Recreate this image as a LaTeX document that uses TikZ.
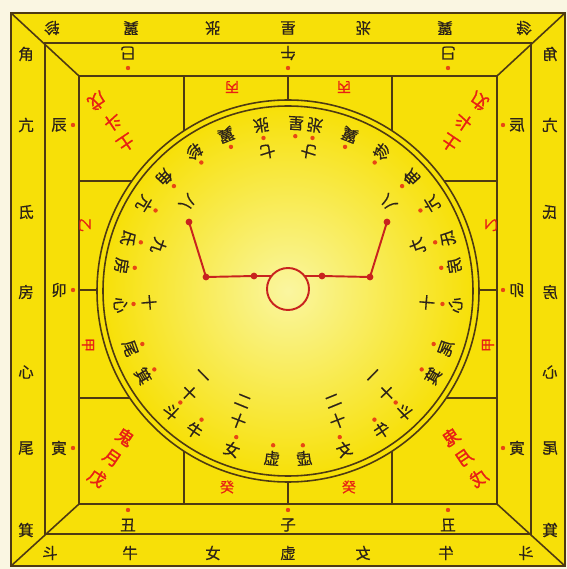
\documentclass[tikz,border=0pt]{standalone}
\usepackage{fontspec}
\newfontfamily\cjk[FakeBold=0.6]{Noto Sans CJK SC}
\newfontfamily\cjkheavy[FakeBold=1.6]{Noto Sans CJK SC}
\definecolor{pagecream}{RGB}{250,246,226}
\definecolor{boardyellow}{RGB}{247,224,8}
\definecolor{glowyellow}{RGB}{250,246,160}
\definecolor{linebrown}{RGB}{78,58,18}
\definecolor{inkdark}{RGB}{45,35,25}
\definecolor{inkred}{RGB}{232,32,20}
\definecolor{dotred}{RGB}{232,70,20}
\definecolor{dipperred}{RGB}{200,35,30}
\usetikzlibrary{calc}

% one half of the board; the other half is its mirror image
\newcommand{\halfboard}[1]{%
  % outer band: lodges
  \foreach \lodge/\x [count=\i] in {轸/52,翼/131,张/213}
    {\node[bandtxt,rotate=180] (#1top\i) at (\x,541) {\lodge};}
  \foreach \lodge/\x [count=\i] in {斗/50,牛/130,女/213}
    {\node[bandtxt] (#1bot\i) at (\x,16) {\lodge};}
  \foreach \lodge/\y [count=\i] in {角/515,亢/444,氐/357,房/277,心/197,尾/121,箕/39}
    {\node[bandtxt] (#1side\i) at (26,\y) {\lodge};}
  % branch band
  \node[bandtxt,rotate=180] (#1si) at (128,516) {巳};
  \fill[dotred] (128,501) circle (2.2);
  \node[bandtxt] (#1chou) at (128,44) {丑};
  \fill[dotred] (128,59) circle (2.2);
  \foreach \branch/\y [count=\i] in {辰/444,卯/279,寅/121}
    {\node[bandtxt] (#1branch\i) at (59,\y) {\branch};
     \fill[dotred] (73,\y) circle (2.2);}
  % stems
  \node[stemtxt,rotate=180] (#1bing) at (232,482) {丙};
  \node[stemtxt,rotate=-90] (#1yi) at (85,344) {乙};
  \node[stemtxt,rotate=-90] (#1jia) at (88,224) {甲};
  \node[stemtxt] (#1gui) at (227,82) {癸};
  % corner gates
  \foreach \gate/\x/\y [count=\i] in {土/126/426,斗/113/447,戊/97/468}
    {\node[gatetxt,rotate=-146] (#1earth\i) at (\x,\y) {\gate};}
  \foreach \gate/\x/\y [count=\i] in {鬼/125/132,月/112/111,戊/97/91}
    {\node[gatetxt,rotate=-34] (#1ghost\i) at (\x,\y) {\gate};}
  % heaven plate
  \begin{scope}[shift={(288,278)}]
    \foreach \lodge/\a [count=\i] in {张/99.1,翼/111.6,轸/124,角/137.4,亢/148.7,
        氐/161.7,房/171.4,心/184.8,尾/200,箕/210.4,斗/226,牛/236.1,女/250.5,虚/264.5}
      {\node[ringtxt,rotate=\a+90] (#1ring\i) at (\a:168) {\lodge};
       \fill[dotred] (\a:155) circle (2.2);}
    \foreach \num/\a/\r [count=\i] in {七/98.4/141,八/138.6/134,九/160.8/137,
        十/184.7/139.5,十/225.9/142,一/224.7/122,十/249/139,二/247.7/119}
      {\node[ringtxt,rotate=\a+90] (#1month\i) at (\a:\r) {\num};}
  \end{scope}
  % dipper
  \coordinate (#1d1) at (189,347);
  \coordinate (#1d2) at (206,292);
  \coordinate (#1d3) at (254,293);
  \coordinate (#1hubedge) at (271.5,293);
  \draw[dipper] (#1d1) -- (#1d2) -- (#1d3) -- (#1hubedge);
  \foreach \p in {d1,d2,d3}
    {\fill[dipperred] (#1\p) circle (3.4);}
}

\begin{document}
\begin{tikzpicture}[
  x=0.02cm, y=0.02cm,
  every node/.style={inner sep=0pt},
  bandtxt/.style={font=\cjk\fontsize{8.8}{9}\selectfont,text=inkdark},
  ringtxt/.style={font=\cjk\fontsize{9.2}{10}\selectfont,text=inkdark},
  stemtxt/.style={font=\cjk\fontsize{8}{9}\selectfont,text=inkred},
  gatetxt/.style={font=\cjkheavy\fontsize{10}{11}\selectfont,text=inkred},
  boardline/.style={draw=linebrown,line width=0.9pt},
  dipper/.style={draw=dipperred,line width=1.1pt},
]
  \useasboundingbox (0,0) rectangle (567,569);
  \fill[pagecream] (0,0) rectangle (567,569);

  % earth plate: three squares
  \fill[boardyellow] (11,3) rectangle (565,556);
  \draw[boardline] (11,3) rectangle (565,556);
  \draw[boardline] (45,35) rectangle (531,526);
  \draw[boardline] (79,65) rectangle (497,493);
  \draw[boardline] (11,3) -- (79,65);
  \draw[boardline] (565,3) -- (497,65);
  \draw[boardline] (11,556) -- (79,493);
  \draw[boardline] (565,556) -- (497,493);

  % grid of the inner square
  \foreach \x in {184,288,392}
    {\draw[boardline] (\x,65) -- (\x,493);}
  \foreach \y in {171,279,388}
    {\draw[boardline] (79,\y) -- (497,\y);}

  % heaven plate
  \fill[boardyellow] (288,278) circle (191);
  \shade[inner color=glowyellow,outer color=boardyellow] (288,278) circle (185);
  \draw[boardline] (288,278) circle (191);
  \draw[boardline] (288,278) circle (185);

  % texts on the axis
  \node[bandtxt,rotate=180] (xingtop) at (288,541) {星};
  \node[bandtxt] (xubot) at (288,16) {虚};
  \node[bandtxt,rotate=180] (wu) at (288,516) {午};
  \fill[dotred] (288,501) circle (2.2);
  \node[bandtxt] (zi) at (288,44) {子};
  \fill[dotred] (288,59) circle (2.2);
  \node[ringtxt,rotate=177.3] (xingring) at ($(288,278)+(87.3:168)$) {星};
  \fill[dotred] ($(288,278)+(87.3:155)$) circle (2.2);

  % hub of the dipper
  \node[draw=dipperred,line width=1.1pt,circle,minimum size=42*0.02cm] (hub) at (288,280) {};

  % left half and its mirror
  \halfboard{l}
  \begin{scope}[shift={(576,0)},xscale=-1,transform shape]
    \halfboard{r}
  \end{scope}
\end{tikzpicture}
\end{document}
